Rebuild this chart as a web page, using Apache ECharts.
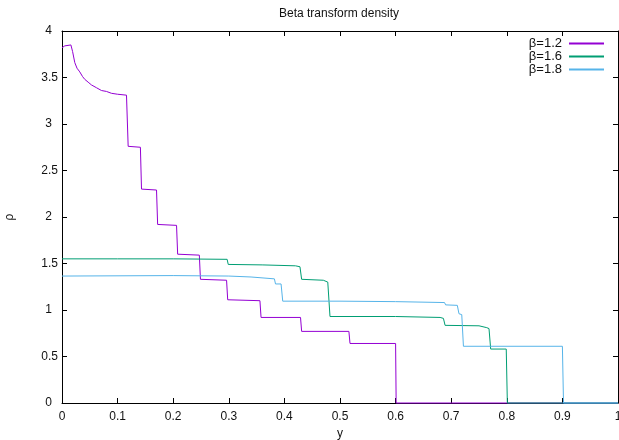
<!DOCTYPE html>
<html>
<head>
<meta charset="utf-8">
<script src="https://cdn.jsdelivr.net/npm/echarts@6/dist/echarts.min.js"></script>
<style>html,body{margin:0;padding:0;background:#fff}#c{width:619px;height:440px}</style>
</head>
<body>
<div id="c"></div>
<script>
// ---- data ----
var title = 'Beta transform density';
var seriesNames = ['β=1.2', 'β=1.6', 'β=1.8'];
var xTicks = [0, 0.1, 0.2, 0.3, 0.4, 0.5, 0.6, 0.7, 0.8, 0.9, 1];
var yTicks = [0, 0.5, 1, 1.5, 2, 2.5, 3, 3.5, 4];

var b12X = [0, 0.005, 0.016, 0.019, 0.023, 0.027, 0.032, 0.037, 0.041, 0.047, 0.053, 0.062, 0.071, 0.080, 0.089, 0.100, 0.116, 0.118,
            0.119, 0.141, 0.143, 0.170, 0.172, 0.206, 0.208, 0.247, 0.249, 0.296, 0.298, 0.356, 0.358, 0.429, 0.431, 0.516, 0.518, 0.600, 0.601, 1];
var b12Y = [3.82, 3.84, 3.85, 3.78, 3.66, 3.60, 3.56, 3.51, 3.48, 3.45, 3.42, 3.39, 3.36, 3.35, 3.33, 3.32, 3.31, 3.30,
            2.76, 2.75, 2.30, 2.29, 1.92, 1.91, 1.60, 1.59, 1.33, 1.32, 1.11, 1.10, 0.92, 0.92, 0.77, 0.77, 0.64, 0.64, 0, 0];

var b16X = [0, 0.1, 0.2, 0.297, 0.299, 0.36, 0.42, 0.428, 0.431, 0.47, 0.478, 0.482, 0.6, 0.68, 0.686, 0.689, 0.75, 0.764, 0.768, 0.771, 0.799, 0.801, 1];
var b16Y = [1.55, 1.55, 1.55, 1.545, 1.49, 1.485, 1.475, 1.465, 1.33, 1.32, 1.30, 0.93, 0.93, 0.92, 0.91, 0.835, 0.83, 0.81, 0.80, 0.58, 0.58, 0, 0];

var b18X = [0, 0.2, 0.3, 0.340, 0.342, 0.382, 0.384, 0.394, 0.397, 0.5, 0.6, 0.688, 0.690, 0.711, 0.714, 0.719, 0.722, 0.9, 0.902, 1];
var b18Y = [1.365, 1.37, 1.365, 1.355, 1.34, 1.335, 1.28, 1.28, 1.095, 1.095, 1.09, 1.08, 1.055, 1.05, 0.96, 0.95, 0.61, 0.61, 0, 0];

var colors = ['#9400D3', '#009E73', '#56B4E9'];

function pairs(xs, ys) { return xs.map(function (x, i) { return [x, ys[i]]; }); }
var allData = [pairs(b12X, b12Y), pairs(b16X, b16Y), pairs(b18X, b18Y)];

var txt = '#111';
var axisBase = {
  axisLine: { show: true, onZero: false, lineStyle: { color: '#000', width: 1 } },
  axisTick: { show: true, inside: true, length: 5, lineStyle: { color: '#000', width: 1 } },
  splitLine: { show: false }
};
function ax(extra) { return Object.assign({}, JSON.parse(JSON.stringify(axisBase)), extra); }

var chart = echarts.init(document.getElementById('c'), null, { renderer: 'canvas' });
chart.setOption({
  animation: false,
  backgroundColor: '#fff',
  color: colors,
  title: {
    text: title, left: 279, top: 8, padding: 0,
    textStyle: { fontFamily: 'Liberation Sans', fontSize: 12, fontWeight: 'normal', color: txt }
  },
  legend: {
    data: seriesNames.map(function (n, i) { return { name: n, icon: 'rect', itemStyle: { color: colors[i] } }; }),
    orient: 'vertical', align: 'right', right: 15, top: 37,
    itemWidth: 35, itemHeight: 2, itemGap: 0, padding: 0,
    textStyle: { fontFamily: 'Liberation Sans', fontSize: 13, color: txt, lineHeight: 12.5, padding: [0, 2, 0, 0] }
  },
  grid: { left: 62, right: 1, top: 31, bottom: 37, containLabel: false, outerBoundsMode: 'none' },
  xAxis: [
    ax({
      type: 'value', position: 'bottom', min: 0, max: 1, interval: 0.1,
      name: 'y', nameLocation: 'middle', nameGap: 23,
      nameTextStyle: { fontFamily: 'Liberation Sans', fontSize: 12, color: txt },
      axisLabel: { margin: 8, fontFamily: 'Liberation Sans', fontSize: 12, color: txt,
        formatter: function (v) { return String(Math.round(v * 10) / 10); } }
    }),
    ax({ type: 'value', position: 'top', min: 0, max: 1, interval: 0.1, axisLabel: { show: false } })
  ],
  yAxis: [
    ax({
      type: 'value', position: 'left', min: 0, max: 4, interval: 0.5,
      name: 'ρ', nameLocation: 'middle', nameGap: 46, nameRotate: 90,
      nameTextStyle: { fontFamily: 'Liberation Sans', fontSize: 12, color: txt },
      axisLabel: { margin: 4, fontFamily: 'Liberation Sans', fontSize: 12, color: txt,
        formatter: function (v) { return Number.isInteger(v) ? '{i|' + v + '}' : String(v); },
        rich: { i: { fontFamily: 'Liberation Sans', fontSize: 12, color: txt, padding: [0, 6, 0, 0] } } }
    }),
    ax({ type: 'value', position: 'right', min: 0, max: 4, interval: 0.5, axisLabel: { show: false } })
  ],
  series: allData.map(function (d, i) {
    return {
      name: seriesNames[i], type: 'line', data: d, xAxisIndex: 0, yAxisIndex: 0,
      showSymbol: false, symbol: 'none', clip: false, z: 3 + i,
      lineStyle: { color: colors[i], width: 1 }, itemStyle: { color: colors[i] }
    };
  })
});
</script>
</body>
</html>
